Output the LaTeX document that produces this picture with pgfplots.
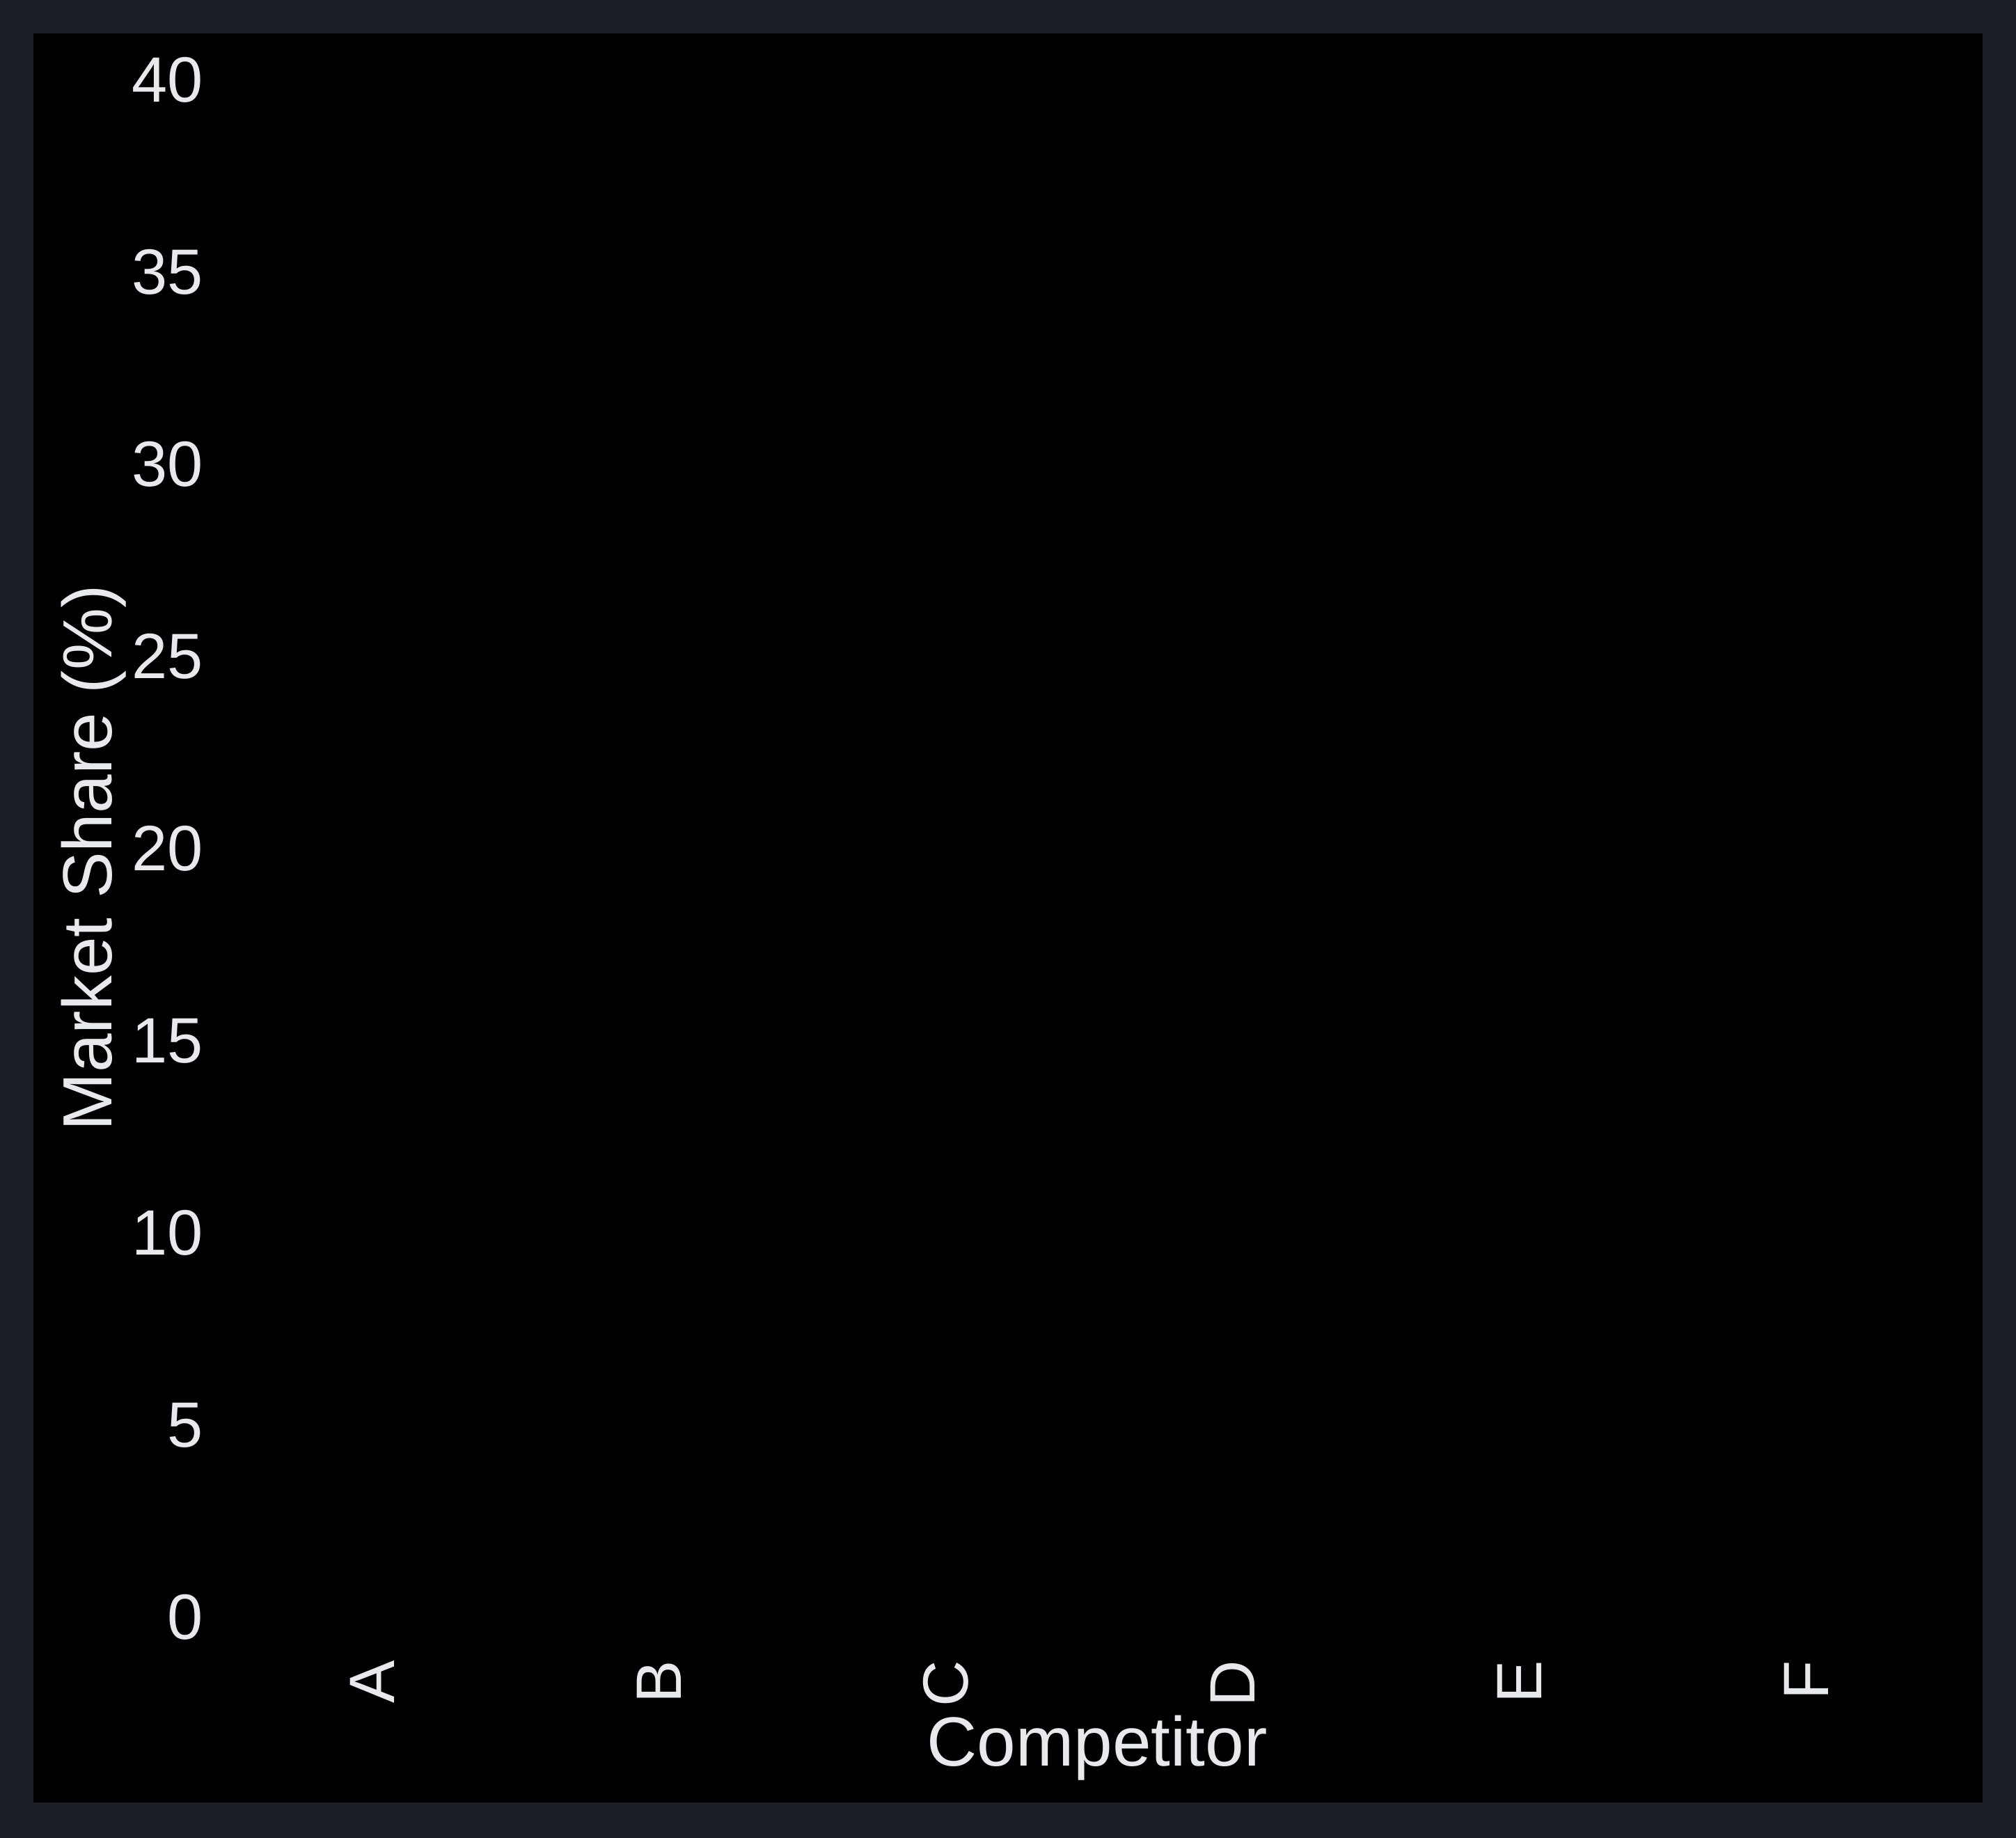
\documentclass[border=0pt]{standalone}
\usepackage{pgfplots}
\pgfplotsset{compat=1.18}
\usepackage{fontspec}
\setmainfont{Liberation Sans}
\definecolor{outerbg}{HTML}{1B1E25}
\definecolor{txt}{HTML}{E8E9ED}

\begin{document}
\begin{tikzpicture}
	% page background and black panel
	\fill[outerbg] (0,0) rectangle (434.4pt,396pt);
	\fill[black] (7.2pt,7.65pt) rectangle (427.2pt,388.8pt);
	\begin{axis}[
		at={(49.35pt,47.55pt)}, anchor=south west,
		scale only axis,
		width=370.8pt, height=331.2pt,
		axis line style={draw=none},
		tick style={draw=none},
		xmin=-0.5, xmax=5.5,
		ymin=0, ymax=40,
		xtick={0,1,2,3,4,5},
		xticklabels={A,B,C,D,E,F},
		ytick={0,5,10,15,20,25,30,35,40},
		/pgf/number format/assume math mode=true,
		ticklabel style={font=\fontsize{13.8}{16}\selectfont, text=txt},
		xticklabel style={rotate=90, anchor=east, xshift=-5.8pt},
		yticklabel style={xshift=-2pt},
		xlabel={Competitor},
		ylabel={Market Share (\%)},
		xlabel style={font=\fontsize{15}{18}\selectfont, text=txt,
			at={(axis description cs:0.5044,-0.0965)}, anchor=base},
		ylabel style={font=\fontsize{15}{18}\selectfont, text=txt,
			at={(axis description cs:-0.0788,0.494)}, rotate=0, anchor=center},
	]
	% no bars visible in the reference: all shares sit at zero
	\addplot[draw=none, fill=black, ybar, bar width=0.6] coordinates {
		(0,0) (1,0) (2,0) (3,0) (4,0) (5,0)
	};
	\end{axis}
\end{tikzpicture}
\end{document}
